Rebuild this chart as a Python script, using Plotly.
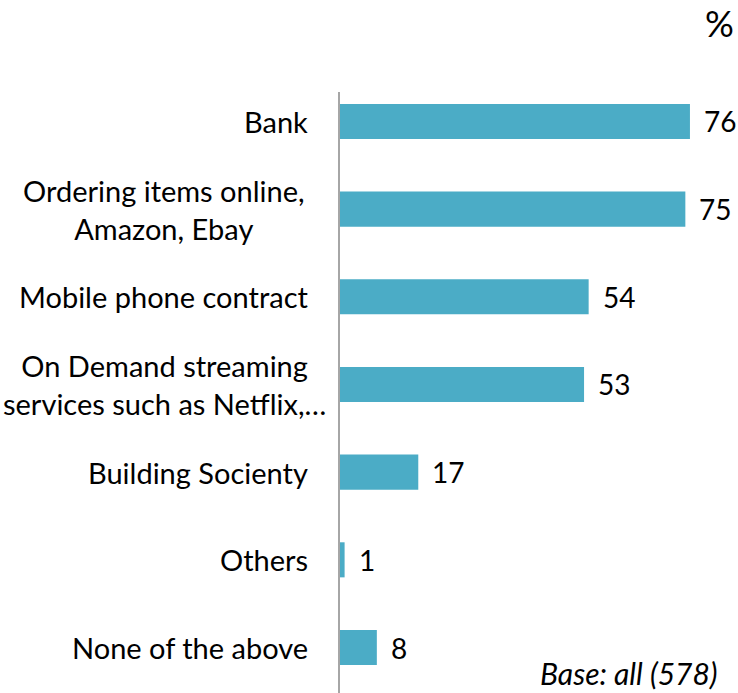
import plotly.graph_objects as go

categories = [
    "Bank",
    "Ordering items online,<br>Amazon, Ebay",
    "Mobile phone contract",
    "On Demand streaming<br>services such as Netflix,…",
    "Building Socienty",
    "Others",
    "None of the above",
]
values = [76, 75, 54, 53, 17, 1, 8]

BAR_COLOR = "#4BACC6"
FONT = "Lato"
TEXT_COLOR = "#000000"

fig = go.Figure(
    go.Bar(
        x=values,
        y=categories,
        orientation="h",
        marker=dict(color=BAR_COLOR, line=dict(width=0)),
        hoverinfo="skip",
    )
)

annotations = []
# category labels: one-line labels sit flush against the axis,
# wrapped labels are centred in the label column
for cat in categories:
    wrapped = "<br>" in cat
    annotations.append(dict(
        x=0, y=cat, xref="x", yref="y", text=cat, showarrow=False,
        xanchor="center" if wrapped else "right", yanchor="middle",
        align="center", xshift=-176 if wrapped else -30,
        font=dict(family=FONT, size=29, color=TEXT_COLOR),
    ))
# value labels at the end of each bar
for cat, v in zip(categories, values):
    annotations.append(dict(
        x=v, y=cat, xref="x", yref="y", text=str(v), showarrow=False,
        xanchor="left", yanchor="middle", xshift=12,
        font=dict(family=FONT, size=28, color=TEXT_COLOR),
    ))
annotations.append(dict(
    x=1, y=1, xref="paper", yref="paper", text="%", showarrow=False,
    xanchor="right", yanchor="top", yshift=93,
    font=dict(family=FONT, size=36, color=TEXT_COLOR),
))
annotations.append(dict(
    x=1, y=0, xref="paper", yref="paper", text="<i>Base: all (578)</i>",
    showarrow=False, xanchor="right", yanchor="bottom", xshift=-16, yshift=0,
    font=dict(family=FONT, size=30, color=TEXT_COLOR),
))

fig.update_layout(
    width=738, height=693,
    margin=dict(l=340, r=2, t=92, b=0),
    paper_bgcolor="white", plot_bgcolor="white",
    showlegend=False,
    bargap=0.6,
    annotations=annotations,
    xaxis=dict(range=[0, 86], visible=False, fixedrange=True),
    yaxis=dict(
        type="category", categoryorder="array", categoryarray=categories,
        range=[6.519, -0.336], showticklabels=False, ticks="",
        showline=True, linecolor="#A6A6A6", linewidth=2,
        showgrid=False, zeroline=False, fixedrange=True,
    ),
)

fig.write_html("out.html")
